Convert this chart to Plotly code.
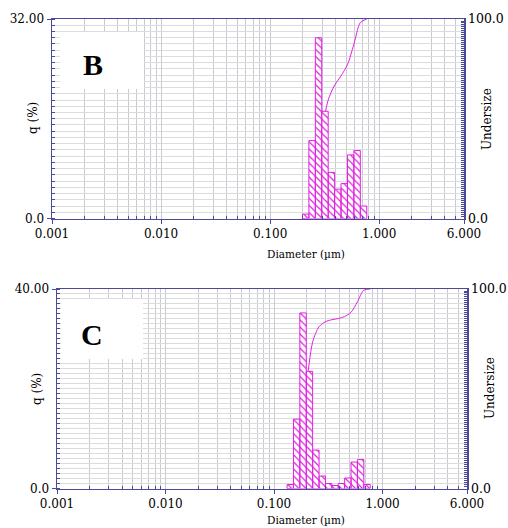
import plotly.graph_objects as go
import math

# ---------------- data ----------------
# size-class edges (µm) and frequency q (%) per class, panel B
edges_B = [0.1981, 0.2269, 0.2599, 0.2976, 0.3409, 0.3905, 0.4472, 0.5122, 0.5867, 0.6720, 0.7697]
q_B = [0.7, 12.5, 29.0, 17.2, 7.4, 4.7, 5.6, 10.2, 10.9, 2.0]
under_B = [0, 0.7, 13.2, 42.2, 59.4, 66.8, 71.5, 77.1, 87.3, 98.2, 100]

# panel C
edges_C = [0.1318, 0.1510, 0.1729, 0.1981, 0.2269, 0.2599, 0.2976, 0.3409, 0.3905,
           0.4472, 0.5122, 0.5867, 0.6720, 0.7697]
q_C = [0.8, 13.9, 35.2, 23.5, 7.7, 2.5, 1.0, 0.6, 1.0, 2.1, 5.3, 5.8, 0.8]
under_C = [0, 0.8, 14.7, 49.9, 73.4, 81.1, 83.6, 84.6, 85.2, 86.2, 88.3, 93.6, 99.4, 100]

x_tickvals = [0.001, 0.01, 0.1, 1, 6]
x_ticktext = ["0.001", "0.010", "0.100", "1.000", "6.000"]
x_minor = [m * d for d in (0.001, 0.01, 0.1) for m in range(2, 10)] + [2, 3, 4, 5]

qmax_B, qmax_C = 32, 40
qtick_B = [0, 10, 20, 30, 32]
qtext_B = ["0.0", "", "", "", "32.00"]
qtick_C = [0, 10, 20, 30, 40]
qtext_C = ["0.0", "", "", "", "40.00"]
utick = [0, 10, 20, 30, 40, 50, 60, 70, 80, 90, 100]
utext = ["0.0", "", "", "", "", "", "", "", "", "", "100.0"]

MAG = "#e020e0"
AX = "#4a4a98"
GRID = "#cacad4"
HGRID = "#dcdcdc"
FONT = "DejaVu Serif"
W, H = 508, 528


def bar_poly(edges, q):
    xs, ys = [], []
    for i, h in enumerate(q):
        xs += [edges[i], edges[i], edges[i + 1], edges[i + 1], edges[i], None]
        ys += [0, h, h, 0, 0, None]
    return xs, ys


fig = go.Figure()

# curves on base (undersize) axes, bars on overlaying q axes (drawn above)
for xa, ya_u, ya_q, edges, q, under in (("x", "y", "y2", edges_B, q_B, under_B),
                                          ("x2", "y3", "y4", edges_C, q_C, under_C)):
    fig.add_trace(go.Scatter(x=edges, y=under, xaxis=xa, yaxis=ya_u, mode="lines",
                             line=dict(color=MAG, width=1, shape="spline", smoothing=0.8),
                             showlegend=False, hoverinfo="skip"))
    bx, by = bar_poly(edges, q)
    fig.add_trace(go.Scatter(x=bx, y=by, xaxis=xa, yaxis=ya_q, mode="lines", fill="toself",
                             fillcolor="white",
                             fillpattern=dict(shape="\\", fgcolor=MAG, bgcolor="white",
                                              size=5, solidity=0.25),
                             line=dict(color=MAG, width=1),
                             showlegend=False, hoverinfo="skip"))

tickfont = dict(family=FONT, size=12, color="black")


def xaxis(dom, anchor):
    return dict(type="log", domain=dom, anchor=anchor, range=[-3, math.log10(6)],
                automargin=False,
                tickmode="array", tickvals=x_tickvals, ticktext=x_ticktext,
                ticks="outside", ticklen=4, tickcolor=AX, tickfont=tickfont,
                showline=True, linecolor=AX, linewidth=1.5, mirror=True,
                showgrid=True, gridcolor=GRID, gridwidth=1, zeroline=False,
                minor=dict(tickvals=x_minor, ticks="inside", ticklen=3, tickcolor=AX,
                           showgrid=True, gridcolor=GRID, gridwidth=1),
                fixedrange=True)


def uaxis(dom, anchor):
    return dict(domain=dom, anchor=anchor, side="right", range=[0, 100],
                automargin=False,
                tickmode="array", tickvals=utick, ticktext=utext,
                ticks="inside", ticklen=6, tickcolor=AX,
                tickfont=dict(family=FONT, size=12.5, color="black"),
                showline=True, linecolor=AX, linewidth=1.5, showgrid=False, zeroline=False,
                minor=dict(tickvals=list(range(0, 101)), ticks="inside", ticklen=3, tickcolor=AX),
                fixedrange=True)


def qaxis(dom, anchor, over, qmax, tv, tt):
    return dict(domain=dom, anchor=anchor, overlaying=over, side="left", range=[0, qmax],
                automargin=False,
                tickmode="array", tickvals=tv, ticktext=tt,
                ticks="outside", ticklen=4, tickcolor=AX, tickfont=tickfont,
                showline=True, linecolor=AX, linewidth=1.5,
                showgrid=True, gridcolor=HGRID, gridwidth=1, zeroline=False,
                minor=dict(tickvals=list(range(0, qmax + 1)), ticks="inside", ticklen=3,
                           tickcolor=AX, showgrid=True, gridcolor=HGRID, gridwidth=1),
                fixedrange=True)


yB = [1 - 218.5 / H, 1 - 19 / H]
yC = [1 - 488.5 / H, 1 - 289 / H]

fig.update_layout(
    template="none",
    width=W, height=H, autosize=False,
    margin=dict(l=0, r=0, t=0, b=0, pad=0, autoexpand=False),
    paper_bgcolor="white", plot_bgcolor="white",
    font=dict(family=FONT, size=12, color="black"),
    xaxis=xaxis([52 / W, 464 / W], "y"),
    yaxis=uaxis(yB, "x"),
    yaxis2=qaxis(yB, "x", "y", qmax_B, qtick_B, qtext_B),
    xaxis2=xaxis([57 / W, 467 / W], "y3"),
    yaxis3=uaxis(yC, "x2"),
    yaxis4=qaxis(yC, "x2", "y3", qmax_C, qtick_C, qtext_C),
)

# white boxes behind panel letters
for (x0, x1, y0, y1) in ((60, 144, 32, 89), (61, 143, 299, 359)):
    fig.add_shape(type="rect", xref="paper", yref="paper",
                  x0=x0 / W, x1=x1 / W, y0=1 - y1 / H, y1=1 - y0 / H,
                  fillcolor="white", line=dict(width=0), layer="above")


def ann(text, px, py, size, angle=0, bold=False, family=FONT):
    fig.add_annotation(text=f"<b>{text}</b>" if bold else text,
                       x=px / W, y=1 - py / H, xref="paper", yref="paper",
                       showarrow=False, textangle=angle, xanchor="center", yanchor="middle",
                       font=dict(family=family, size=size, color="black"))


ann("B", 93, 65, 30, bold=True, family="Liberation Serif")
ann("C", 92, 334, 30, bold=True, family="Liberation Serif")
ann("q (%)", 33, 118, 12, angle=-90)
ann("q (%)", 37, 389, 12, angle=-90)
ann("Undersize", 487, 119, 12, angle=-90)
ann("Undersize", 490, 388, 12, angle=-90)
ann("Diameter (µm)", 306, 254, 10.5)
ann("Diameter (µm)", 306, 520, 10.5)

fig.write_html("out.html",
               config={"displayModeBar": False, "staticPlot": True},
               post_script="document.body.style.margin='0';document.body.style.overflow='hidden';")
